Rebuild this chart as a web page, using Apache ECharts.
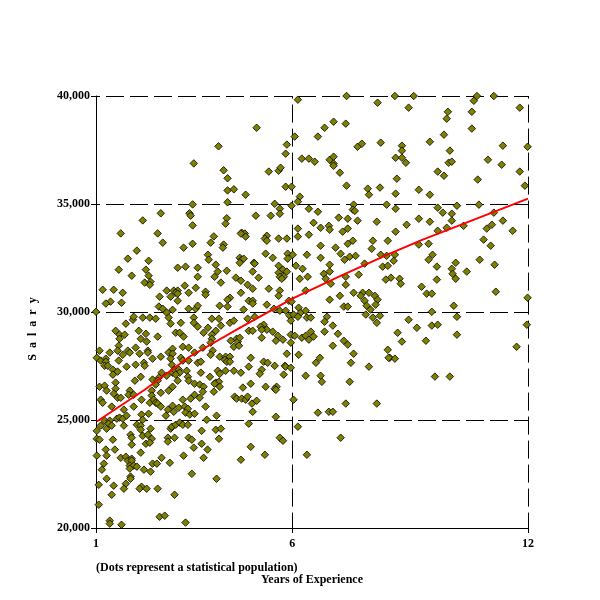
<!DOCTYPE html>
<html><head><meta charset="utf-8">
<style>html,body{margin:0;padding:0;background:#fff}#c{width:600px;height:600px}</style>
<script src="https://cdn.jsdelivr.net/npm/echarts@6/dist/echarts.min.js"></script>
</head><body><div id="c"></div>
<script>
const xTicks = [1, 6, 12];
const xName = 'Years of Experience';
const yName = 'S  a  l  a  r  y';
const note = '(Dots represent a statistical population)';
const fitYears = [1.02, 2.24, 3.39, 4.66, 6, 7.2, 8.48, 9.32, 12];
const fitSalary = [24930, 26400, 27940, 29270, 30620, 31650, 32700, 33350, 35250];
const population = [
[4.12,37670],[3.49,36880],[4.25,36560],[4.35,36190],[4.35,35630],[4.51,35680],[4.35,35080],[3.46,34980],[2.65,34570],[3.38,34570],[3.41,34460],[2.19,34240],[4.33,34340],[4.30,34090],[3.46,34010],[1.63,33640],[2.57,33640],[4.00,33500],
[6.14,39830],[7.38,40000],[8.17,39690],[5.09,38530],[6.06,38120],[6.65,38120],[6.82,38530],[7.05,38810],[7.36,38720],[5.86,37750],[7.66,37650],[7.77,37790],[8.25,37840],[5.83,37330],[6.24,37100],[6.42,37100],[6.57,36960],[6.95,37050],[7.05,37190],[7.05,36870],[7.05,36770],[7.21,36450],[5.40,36500],[5.65,36540],[5.70,36680],[5.83,35800],[5.98,35800],[7.38,35850],[7.92,35710],[8.23,35760],[7.95,35430],[4.81,35430],[6.19,35340],[6.14,35110],[5.55,35010],[5.98,34920],[5.68,34780],[6.42,34780],[6.65,34640],[7.56,34970],[7.54,34740],[7.59,34680],[8.40,34970],[5.07,34460],[5.45,34460],[5.68,34550],[7.18,34370],[7.41,34320],[7.66,34230],[8.15,34180],[6.54,34130],[6.72,33900],[6.93,33990],[6.95,33810],[7.28,33720],[7.41,33860],[6.14,33860],[6.42,33580],[6.14,33490],[5.86,33400],[5.65,33400],[5.35,33530],[5.30,33400],[4.71,33670],[4.79,33630],[4.81,33490],[4.69,33630],
[8.61,40000],[9.09,40000],[10.70,40000],[11.13,40000],[10.62,39780],[8.96,39460],[11.79,39460],[9.96,39270],[10.57,39270],[9.93,38950],[10.57,38490],[9.86,38210],[9.50,37880],[8.79,37700],[11.36,37700],[11.99,37650],[8.79,37470],[10.01,37470],[8.63,37140],[8.79,37140],[8.89,36910],[10.98,37050],[9.98,36910],[10.06,36960],[11.33,36820],[9.70,36500],[11.79,36500],[9.86,36310],[8.66,36170],[10.72,36130],[11.92,35850],[9.22,35660],[8.63,35480],[9.50,35430],[10.19,34920],[10.75,34970],[9.70,34830],[8.63,34780],[9.83,34600],[10.06,34550],[11.13,34600],[9.22,34320],[10.06,34230],[11.36,34230],[9.50,34180],[8.91,34040],[10.36,33990],[11.08,34040],[10.95,33860],[9.93,33900],[9.70,33760],[11.61,33760],[8.63,33720],[10.87,33350],
[11.05,33070],[9.22,33120],[9.47,33160],[8.61,32650],[9.57,32650],[8.58,32370],[9.47,32420],[10.77,32420],[11.15,32190],[10.16,32280],[9.68,32100],[10.06,32000],[10.44,31870],[10.08,31770],[8.51,31590],[8.73,31540],[10.16,31540],[9.68,31500],[8.76,31310],[9.29,31170],[9.42,30850],[9.55,30850],[11.18,30940],[11.99,30660],[10.11,30290],[9.55,30010],[10.19,29780],[8.96,29640],[11.97,29410],[9.55,29370],[9.70,29410],[9.17,29270],[8.68,29040],[10.19,28950],[8.79,28630],[9.40,28670],[11.71,28390],[8.48,27880],[8.61,27840],[9.63,27010],[10.01,27010],
[2.70,33210],[3.23,32980],[3.46,33160],[3.92,33210],[4.25,33120],[4.23,32980],[2.04,32840],[3.85,32650],[1.81,32470],[2.34,32370],[3.87,32420],[4.05,32190],[3.08,32050],[3.28,32100],[3.59,32050],[1.58,31960],[2.27,31960],[4.10,31870],[4.33,31910],[1.91,31680],[2.34,31680],[3.59,31630],[4.02,31630],[4.56,31590],[2.24,31360],[2.39,31400],[2.37,31260],[4.18,31360],[3.26,31220],[1.17,31030],[1.45,31030],[1.68,30890],[2.80,30990],[2.98,30990],[3.08,30990],[3.03,30890],[3.08,30850],[3.36,30890],[3.54,31120],[3.79,30940],[3.79,30800],[2.62,30710],[2.90,30710],[3.08,30520],[4.41,30660],[4.35,30570],[1.37,30480],[1.25,30390],[1.65,30430],[2.60,30250],[2.70,30150],[2.80,29970],[2.95,30100],[3.36,30150],[3.54,30150],[3.59,30290],[4.15,30290],[4.35,30250],[1.00,30010],[2.85,29740],[1.94,29640],[1.96,29780],[2.19,29740],[2.37,29740],[2.52,29690],[3.49,29740],[3.95,29690],[4.13,29690],[1.76,29460],[2.90,29460],[3.16,29500],[3.49,29500],[3.59,29320],[3.85,29270],[4.18,29370],[4.41,29500],[4.51,29600],[1.50,29130],[2.09,29130],[2.27,28990],[3.03,29040],[3.13,29040],[3.74,29040],[4.05,29130],[1.60,28950],[1.73,28950],[1.60,28760],[2.14,28760],[2.57,28860],[3.23,28860],[3.95,28950],[3.95,28760],[4.58,28760],[2.29,28630],[3.92,28580],[4.43,28670],[4.61,28630],[1.58,28440],[4.51,28390],[4.64,28440],[2.01,28350],[1.09,28210],[1.55,28210],[1.81,28210],[2.32,28210],[2.32,28120],[1.86,28120],[1.35,28120],[2.11,28070],[1.68,28020],[2.95,28300],[2.85,28120],[2.95,28070],[3.21,28390],[3.36,28350],[3.51,28120],[3.72,28350],[3.97,28210],[3.92,28020],[1.02,27880],[1.12,27750],[1.25,27840],[1.25,27700],[1.22,27510],[1.30,27510],[1.58,27750],[1.78,27470],[2.44,27840],[2.65,27930],[2.90,27840],[2.93,27560],[3.16,27880],[3.21,27750],[3.36,27750],[3.59,27650],[3.67,27700],[4.15,27930],[4.30,27930],[4.41,27930],[4.28,27790],[4.33,27700],[4.41,27700],[2.01,27560],[2.22,27650],[2.24,27510],[1.43,27330],[1.55,27240],[1.43,27100],[2.14,27000],[1.99,26820],[1.50,26730],[1.09,26540],[1.22,26590],[1.50,26450],[2.44,26870],[2.60,26960],[2.67,27190],[2.57,26820],[2.52,26640],[2.80,27050],[2.95,27190],[3.00,27330],[3.11,27330],[3.13,27190],[3.03,27100],[3.31,27280],[3.34,27000],[3.08,26820],[3.36,26820],[3.67,27190],[3.51,26680],[3.64,26640],[3.74,26540],[3.90,27000],[4.10,27280],[4.15,27140],[4.30,27280],[4.51,27280],[4.05,26730],[4.13,26770],[4.15,26540],[4.02,26680],[2.95,26540],
[5.35,33300],[6.72,33070],[7.10,32980],[7.41,33160],[7.54,33300],[8.05,33300],[8.02,32930],[8.43,33300],[5.32,32700],[5.50,32510],[5.88,32700],[6.01,32650],[5.88,32470],[6.37,32650],[6.72,32510],[7.23,32700],[7.46,32560],[7.33,32420],[7.61,32600],[8.25,32650],[8.40,32600],[4.66,32510],[4.71,32420],[4.76,32470],[4.66,32280],[5.02,32280],[5.04,32240],[5.65,32140],[6.09,32140],[6.95,32190],[7.84,32240],[8.30,32100],[8.43,32140],[4.99,31870],[5.76,31960],[5.65,31820],[5.86,31870],[6.26,32000],[6.95,31870],[6.80,31770],[7.69,31730],[5.14,31590],[5.68,31630],[5.78,31630],[5.73,31540],[6.19,31540],[6.39,31630],[6.85,31540],[7.36,31630],[8.38,31500],[4.69,31450],[4.86,31260],[6.98,31310],[7.36,31260],[4.99,31080],[5.40,31080],[5.68,30990],[6.34,30990],[4.69,30890],[5.65,30750],[7.56,30890],[7.79,30890],[7.95,30890],[7.74,30750],[8.10,30750],[7.21,30750],[4.89,30520],[4.99,30520],[4.99,30390],[6.95,30570],[5.91,30520],[5.98,30480],[7.84,30520],[8.17,30570],[7.89,30290],[8.12,30340],[5.35,30340],[7.31,30250],[7.41,30250],[4.76,30110],[5.53,30150],[5.68,30060],[5.83,30060],[6.16,30200],[6.21,29970],[6.34,30060],[7.99,30110],[5.93,29830],[6.03,29880],[6.14,29780],[5.96,29600],[6.37,29740],[6.47,29740],[6.88,29780],[7.87,29880],[8.05,29740],[8.23,29830],[4.86,29690],[5.04,29780],[8.15,29500],[6.82,29550],[7.03,29370],[5.27,29410],[5.19,29320],[5.35,29180],[5.22,29180],[5.50,29090],[4.89,29130],[4.99,29130],[6.47,29090],[6.82,29090],[7.16,28990],[4.66,28810],[5.22,28810],[5.63,28900],[5.96,28950],[6.06,28900],[6.24,28810],[6.34,28900],[6.54,28860],[5.58,28670],[5.76,28720],[6.42,28720],[5.96,28580],[7.31,28670],[7.41,28490],[7.03,28440],[8.43,28250],[5.86,28070],[6.16,28020],[7.56,28070],[4.94,27880],[6.70,27880],[8.45,27880],[5.27,27700],[5.37,27650],[6.60,27650],[7.49,27650],[4.89,27470],[5.55,27510],[5.81,27510],[5.83,27470],[5.96,27420],[7.95,27470],[5.22,27330],[5.17,27140],[4.69,27190],[5.78,27100],[6.34,27050],[6.72,27050],[6.75,26770],[7.46,26770],[4.94,26680],[4.74,26500],[5.32,26540],[5.60,26540],[5.55,26450],
[1.27,26360],[1.45,26220],[1.55,26030],[1.63,26030],[1.86,26360],[1.83,26170],[1.96,26170],[2.42,26360],[2.42,26130],[2.65,26260],[2.85,26360],[3.72,26310],[4.00,26310],[3.51,26170],[3.41,25990],[3.64,26030],[3.21,25940],[4.53,26080],[4.58,25990],[1.12,25940],[1.17,25800],[2.16,25940],[2.37,25800],[2.47,25940],[2.52,25800],[2.57,25760],[2.65,25620],[2.95,25660],[3.11,25570],[3.26,25620],[3.34,25520],[3.79,25620],[1.40,25620],[1.96,25620],[1.71,25480],[2.83,25480],[2.98,25380],[3.28,25340],[3.39,25250],[3.51,25290],[2.16,25250],[2.34,25290],[2.78,25200],[4.07,25200],[1.53,25060],[1.60,25110],[1.68,25060],[1.78,25200],[1.22,24970],[1.35,24970],[2.19,25010],[3.82,25010],[1.12,24740],[1.27,24600],[1.32,24830],[1.40,24740],[1.71,24740],[2.04,24780],[2.14,24740],[2.14,24550],[2.39,24600],[2.90,24600],[2.93,24690],[3.03,24780],[3.13,24880],[3.21,24780],[3.34,24780],[3.69,24500],[4.05,24550],[4.18,24600],[1.02,24500],[1.88,24320],[1.91,24180],[2.19,24270],[2.32,24320],[2.42,24130],[2.83,24180],[2.83,24000],[3.00,24180],[3.36,24180],[3.44,24090],[4.13,24130],[1.02,24130],[1.09,24090],[1.43,24090],[2.27,23900],[2.37,23950],[1.91,23860],[3.69,23900],[3.49,23720],[3.84,23630],[1.25,23630],[1.48,23630],[2.14,23490],[1.27,23350],[1.02,23350],[3.23,23350],[2.67,23250],[3.74,23250],[1.63,23250],[1.76,23300],[1.81,23120],[1.91,23210],[1.91,23120],[1.20,22980],[2.44,22980],[2.55,22980],[2.88,23020],[1.86,22890],[1.96,22890],[2.04,22840],[1.86,22750],[1.15,22700],[2.22,22700],[2.39,22610],[3.44,22510],[1.27,22280],[1.88,22380],[1.88,22280],[4.07,22280],[1.07,22000],[1.45,21960],[1.76,22050],[1.71,21820],[2.16,21910],[2.11,21820],[2.29,21820],[2.57,21820],[1.40,21540],[3.00,21540],[1.07,21080],[1.35,20340],[1.35,20200],[1.65,20150],[2.62,20520],[2.75,20570],[3.28,20250],
[4.71,25990],[4.81,25940],[4.86,26080],[4.97,25760],[5.09,25890],[4.99,25380],[5.58,25150],[6.03,25940],[5.58,26400],[6.65,25340],[6.93,25380],[7.03,25380],[7.36,25760],[8.15,25760],[4.89,24830],[6.14,24690],[5.68,24180],[5.76,24040],[7.23,24180],[4.94,23760],[5.30,23390],[6.37,23390],[4.69,23160]
];
const font = {fontFamily:'"Liberation Serif"', fontWeight:'bold', fontSize:12, color:'#000'};
const chart = echarts.init(document.getElementById('c'), null, {renderer:'canvas'});
chart.setOption({
  animation:false,
  backgroundColor:'#fff',
  grid:{left:96, top:96, right:72, bottom:72},
  title:{text:note, left:96, top:562, padding:0, textStyle:Object.assign({},font)},
  xAxis:{type:'value', min:1, max:12, name:xName, nameLocation:'middle', nameGap:46,
    nameTextStyle:Object.assign({},font),
    axisLine:{show:true,onZero:false,lineStyle:{color:'#000',width:1}},
    axisTick:{show:true,length:5,customValues:xTicks,lineStyle:{color:'#000'}},
    axisLabel:{customValues:xTicks,margin:10,showMinLabel:true,showMaxLabel:true,hideOverlap:false,...font},
    splitLine:{show:true,lineStyle:{color:'#000',width:1,type:[18,6],dashOffset:15.4}}},
  yAxis:{type:'value', min:20000, max:40000, interval:5000, name:yName, nameLocation:'middle', nameGap:57,
    nameTextStyle:{...font,padding:[0,34,0,0]},
    axisLine:{show:true,onZero:false,lineStyle:{color:'#000',width:1}},
    axisTick:{show:true,length:5,lineStyle:{color:'#000'}},
    axisLabel:{margin:6,padding:[2,0,0,0],...font},
    splitLine:{show:true,lineStyle:{color:'#000',width:1,type:[18,6],dashOffset:14}}},
  series:[
    {type:'scatter',data:population,symbol:'diamond',symbolSize:7.5,clip:false,
     itemStyle:{color:'#808000',borderColor:'#000',borderWidth:0.8,opacity:1}},
    {type:'line',data:fitYears.map((x,i)=>[x,fitSalary[i]]),showSymbol:false,symbol:'none',smooth:false,clip:false,z:5,
     lineStyle:{color:'#ff0000',width:2}}
  ]
});
</script></body></html>
